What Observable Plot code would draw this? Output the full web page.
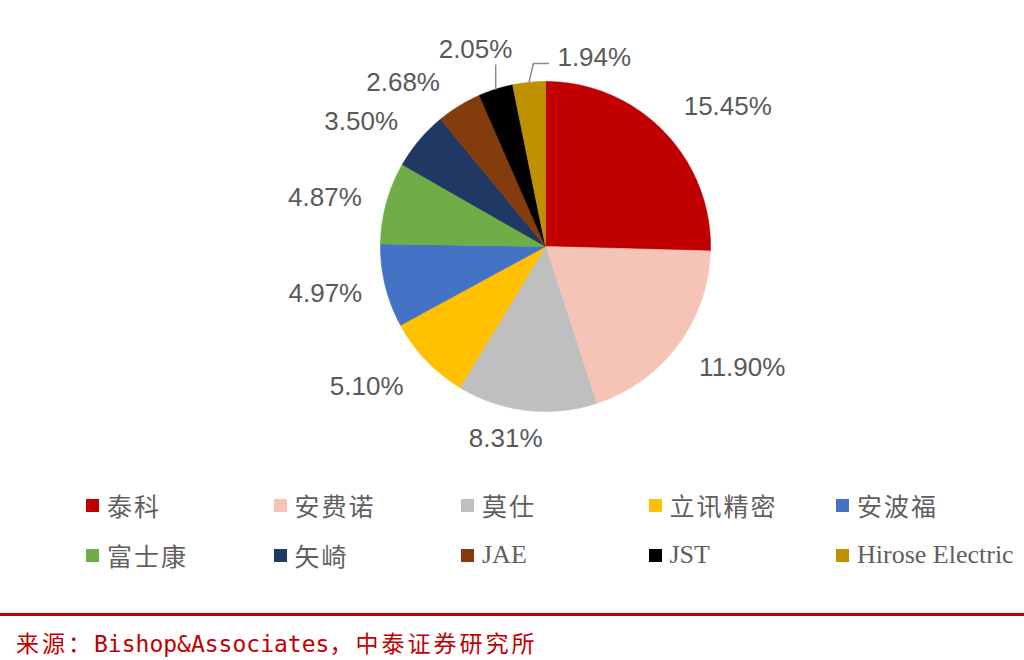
<!DOCTYPE html>
<html><head><meta charset="utf-8">
<script src="https://cdn.jsdelivr.net/npm/d3@7"></script>
<script src="https://cdn.jsdelivr.net/npm/@observablehq/plot@0.6"></script>
<style>
body{margin:0;background:#fff;width:1024px;height:660px;position:relative;overflow:hidden}
#chart{position:absolute;left:0;top:0}
.item{position:absolute;display:flex;align-items:center;height:30px;line-height:30px;font-size:26px;color:#5f5f5f;font-family:"Liberation Serif","Noto Sans CJK SC",serif;white-space:nowrap}
.item .zh{font-size:25px;letter-spacing:2px;font-family:"Noto Sans CJK SC",sans-serif}
.sw{width:13px;height:13px;margin-right:8px;position:relative;top:0px}
#rule{position:absolute;left:0;top:613px;width:1024px;height:3px;background:#c00000}
#source{position:absolute;left:16px;top:629px;line-height:26px;font-size:23px;color:#c00000;font-family:"DejaVu Sans Mono","Noto Sans CJK SC",monospace;white-space:nowrap}
#source .cjk{letter-spacing:3px;font-family:"Noto Sans CJK SC",sans-serif}
</style></head><body>
<div id="chart"></div>
<div id="legend"></div>
<div id="rule"></div>
<div id="source"><span class="cjk">来源：</span>Bishop&amp;Associates<span class="cjk">，中泰证券研究所</span></div>
<script>
// ---- data ----
const companies = ["泰科","安费诺","莫仕","立讯精密","安波福","富士康","矢崎","JAE","JST","Hirose Electric"];
const shares = [15.45,11.90,8.31,5.10,4.97,4.87,3.50,2.68,2.05,1.94];
const shareLabels = ["15.45%","11.90%","8.31%","5.10%","4.97%","4.87%","3.50%","2.68%","2.05%","1.94%"];
const colors = ["#C00000","#F5C4B6","#BFBFBF","#FFC000","#4472C4","#70AD47","#1F3864","#843C0C","#000000","#BF9000"];

// ---- layout ----
const W = 1024, H = 480, CX = 545, CY = 246, R = 165;
const labelFont = "26px 'Liberation Sans', Arial, sans-serif";
// manual label drags (px), as in the source chart
const labelNudge = {0:[11,4], 1:[6,-2], 2:[-13,-12], 3:[-11,-2], 4:[5,-2], 5:[3,6], 6:[-7,8], 7:[-21,12], 9:[72,16]};
const leaderIdx = [8, 9];

const total = d3.sum(shares);
const ctx = document.createElement("canvas").getContext("2d");
ctx.font = labelFont;

const slicePts = [];
const labels = [];
const leaders = [];
let acc = 0;
shares.forEach((v, i) => {
  const a0 = acc / total * 2 * Math.PI;
  acc += v;
  const a1 = acc / total * 2 * Math.PI;
  const n = Math.max(2, Math.ceil((a1 - a0) / (Math.PI / 360)));
  slicePts.push({name: companies[i], x: 0, y: 0});
  for (let k = 0; k <= n; k++) {
    const a = a0 + (a1 - a0) * k / n;
    slicePts.push({name: companies[i], x: Math.sin(a), y: -Math.cos(a)});
  }
  slicePts.push({name: companies[i], x: 0, y: 0});
  // label
  const am = (a0 + a1) / 2, s = Math.sin(am), c = -Math.cos(am);
  const w = ctx.measureText(shareLabels[i]).width, h = 22;
  const nud = labelNudge[i] || [0, 0];
  const lx = (195 * s + s * w / 2 + nud[0]) / R;
  const ly = (195 * c + c * h / 2 + nud[1]) / R;
  labels.push({text: shareLabels[i], x: lx, y: ly, w});
  if (leaderIdx.includes(i)) {
    const px = s, py = c;
    if (i === 8) {
      leaders.push({id: i, x: px, y: py});
      leaders.push({id: i, x: px, y: ly + 15 / R});
    } else {
      const left = lx - w / 2 / R;
      leaders.push({id: i, x: px, y: py});
      leaders.push({id: i, x: left - 24 / R, y: ly + 6 / R});
      leaders.push({id: i, x: left - 9 / R, y: ly + 6 / R});
    }
  }
});

const chart = Plot.plot({
  width: W, height: H,
  margin: 0,
  x: {domain: [-CX / R, (W - CX) / R], range: [0, W], axis: null},
  y: {domain: [-CY / R, (H - CY) / R], range: [0, H], axis: null},
  color: {domain: companies, range: colors},
  style: {background: "#fff"},
  marks: [
    Plot.line(slicePts, {x: "x", y: "y", z: "name", fill: "name", stroke: "name", strokeWidth: 0.6, curve: "linear"}),
    Plot.line(leaders, {x: "x", y: "y", z: "id", stroke: "#8c8c8c", strokeWidth: 1.5}),
    Plot.text(labels, {x: "x", y: "y", text: "text", fontSize: 26, fill: "#595959",
      fontFamily: "'Liberation Sans', Arial, sans-serif", textAnchor: "middle", lineAnchor: "middle"})
  ]
});
document.getElementById("chart").appendChild(chart);

// ---- legend ----
const leg = document.getElementById("legend");
companies.forEach((name, i) => {
  const col = i % 5, row = Math.floor(i / 5);
  const d = document.createElement("div");
  d.className = "item";
  d.style.left = (86 + col * 187.5) + "px";
  d.style.top = (490 + row * 50) + "px";
  const sw = document.createElement("span");
  sw.className = "sw";
  sw.style.background = colors[i];
  const t = document.createElement("span");
  if (/[\u4e00-\u9fff]/.test(name)) t.className = "zh";
  t.textContent = name;
  d.appendChild(sw); d.appendChild(t);
  leg.appendChild(d);
});
</script>
</body></html>
